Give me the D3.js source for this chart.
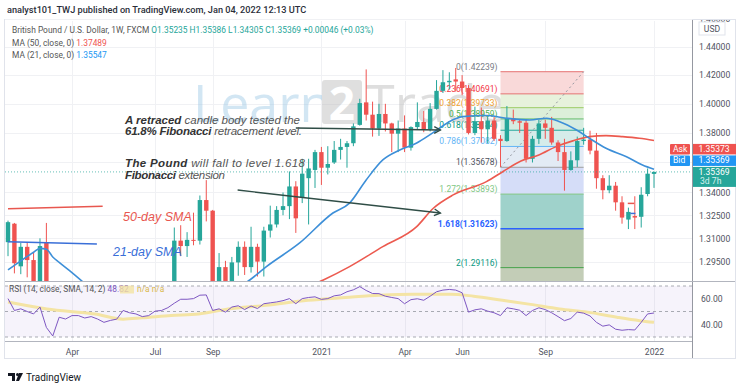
<!DOCTYPE html>
<html>
<head>
<meta charset="utf-8">
<script src="https://cdn.jsdelivr.net/npm/d3@7"></script>
<style>
  body { margin: 0; background: #fff; }
  svg { display: block; font-family: Roboto, "Liberation Sans", sans-serif; }
</style>
</head>
<body>
<svg id="chart" width="740" height="387"></svg>
<script>
// weekly GBP/USD candles, first bar = week of 27 Jan 2020
const FIRST_WEEK = Date.UTC(2020, 0, 27);
const opens = [1.3075,1.3195,1.2920,1.3045,1.2960,1.2800,1.3070,1.2370,1.1630,1.2440,1.2270,1.2510,1.2500,1.2370,1.2450,1.2400,1.2110,1.2200,1.2350,1.2670,1.2560,1.2350,1.2340,1.2485,1.2620,1.2570,
  1.2790,1.3085,1.3050,1.3090,1.3085,1.3350,1.3280,1.2800,1.2915,1.2745,1.2945,1.3045,1.2915,1.3045,1.2950,1.3150,1.3190,1.3285,1.3310,1.3440,1.3370,1.3495,1.3550,
  1.3670,1.3565,1.3600,1.3685,1.3705,1.3730,1.3855,1.4010,1.3925,1.3830,1.3930,1.3865,1.3795,1.3830,1.3700,1.3840,1.3875,1.3825,1.3965,1.4090,1.4150,1.4170,1.4155,1.4110,
  1.3800,1.3880,1.3825,1.3885,1.3760,1.3745,1.3900,1.3880,1.3870,1.3625,1.3760,1.3865,1.3835,1.3735,1.3670,1.3550,1.3615,1.3745,1.3755,1.3680,1.3495,1.3415,1.3445,1.3335,
  1.3222,1.3245,1.3240,1.3390,1.35235];
const highs = [1.3215,1.3200,1.3070,1.3075,1.3010,1.3100,1.3200,1.2485,1.2485,1.2485,1.2525,1.2650,1.2515,1.2600,1.2460,1.2400,1.2300,1.2410,1.2675,1.2813,1.2690,1.2540,1.2510,1.2670,1.2670,1.2795,
  1.3170,1.3185,1.3140,1.3267,1.3380,1.3482,1.3285,1.3005,1.2955,1.2980,1.3080,1.3080,1.3175,1.3065,1.3175,1.3313,1.3310,1.3400,1.3540,1.3475,1.3625,1.3625,1.3685,
  1.3705,1.3710,1.3745,1.3760,1.3745,1.3865,1.4035,1.4240,1.4015,1.4000,1.4000,1.3870,1.3885,1.3920,1.3845,1.4010,1.3950,1.4005,1.4165,1.4235,1.4220,1.4250,1.4200,1.4130,
  1.3980,1.3975,1.3910,1.3910,1.3785,1.3985,1.3960,1.3890,1.3895,1.3780,1.3890,1.3890,1.3910,1.3750,1.3760,1.3675,1.3775,1.3835,1.3815,1.3800,1.3515,1.3515,1.3470,1.3375,
  1.3300,1.3375,1.3435,1.3560,1.35386];
const lows = [1.2985,1.2875,1.2870,1.2850,1.2725,1.2725,1.2260,1.1410,1.1630,1.2165,1.2250,1.2400,1.2250,1.2340,1.2265,1.2075,1.2075,1.2160,1.2340,1.2500,1.2335,1.2330,1.2250,1.2475,1.2480,1.2560,
  1.2780,1.2985,1.2980,1.3055,1.3060,1.3210,1.2762,1.2765,1.2675,1.2730,1.2860,1.2865,1.2880,1.2855,1.2855,1.3105,1.3170,1.3250,1.3225,1.3135,1.3330,1.3190,1.3430,
  1.3450,1.3520,1.3590,1.3620,1.3565,1.3710,1.3850,1.3885,1.3775,1.3780,1.3810,1.3670,1.3670,1.3670,1.3680,1.3825,1.3805,1.3810,1.3960,1.4075,1.4100,1.4085,1.4060,1.3790,
  1.3785,1.3735,1.3730,1.3745,1.3570,1.3740,1.3860,1.3800,1.3600,1.3600,1.3725,1.3760,1.3720,1.3610,1.3412,1.3545,1.3570,1.3720,1.3655,1.3425,1.3355,1.3395,1.3280,1.3195,
  1.3160,1.3160,1.3170,1.3375,1.34305];
const closes = [1.3205,1.2940,1.3045,1.2960,1.2825,1.3050,1.2340,1.1630,1.2460,1.2270,1.2510,1.2505,1.2370,1.2450,1.2400,1.2110,1.2200,1.2350,1.2670,1.2560,1.2350,1.2335,1.2485,1.2620,1.2570,1.2790,
  1.3085,1.3050,1.3090,1.3085,1.3350,1.3280,1.2795,1.2915,1.2745,1.2945,1.3045,1.2915,1.3045,1.2950,1.3150,1.3190,1.3285,1.3310,1.3440,1.3230,1.3525,1.3560,1.3670,
  1.3565,1.3590,1.3685,1.3705,1.3730,1.3845,1.4005,1.3925,1.3830,1.3930,1.3865,1.3795,1.3830,1.3700,1.3840,1.3875,1.3825,1.3965,1.4090,1.4150,1.4160,1.4155,1.4110,1.3800,
  1.3880,1.3825,1.3885,1.3760,1.3745,1.3900,1.3880,1.3870,1.3625,1.3760,1.3865,1.3835,1.3735,1.3670,1.3550,1.3615,1.3745,1.3755,1.3680,1.3495,1.3415,1.3445,1.3335,1.3235,
  1.3272,1.3235,1.3385,1.3525,1.35369];

// moving averages: [week index, price]
const ma50Points = [[36,1.2620],[42,1.2720],[49.3,1.2833],[53.4,1.2918],[58.6,1.3046],[63.9,1.3176],[66.5,1.3296],[69.6,1.3384],[74.8,1.3472],
  [77.4,1.3540],[80.2,1.3610],[83,1.3651],[85.7,1.3707],[88.3,1.3746],[90.9,1.3775],[93.5,1.3782],[96.1,1.3775],[98.7,1.3764],[101,1.37489]];
const ma21Points = [[0,1.2897],[2,1.2955],[4,1.3010],[5,1.3035],[6,1.3030],[7,1.2980],[8,1.2945],[10,1.2880],[12,1.2810],[16,1.2650],[22,1.2450],
  [28,1.2560],[34,1.2740],[37.8,1.2833],[40.4,1.2918],[45.6,1.3070],[50.8,1.3265],[53.4,1.3330],[56,1.3483],[58.6,1.3617],[61.25,1.3684],[63.9,1.3732],
  [66.4,1.3800],[69.5,1.3889],[71.1,1.3912],[74.8,1.3919],[77.9,1.3901],[81.6,1.3889],[84.2,1.3901],[86.25,1.3877],[88.9,1.3820],[90.9,1.3764],
  [93.5,1.3696],[96.7,1.3639],[99.2,1.3583],[101,1.35547]];

// RSI(14) weekly values and its SMA
const rsiValues = [60.1,50.8,52.1,50,48.1,53.5,37.5,30.8,45.5,44.1,46.8,46.8,44.9,46,44.1,41.5,43,44,50.8,49,48.1,46,46.8,50.3,50.8,53,
  56.5,59.6,59.6,60.1,62.8,63,50.8,52.1,49.5,53.5,54.5,51.5,54.3,52.3,56.1,56.8,57.5,58.5,60.1,56.1,60.1,61,61.5,
  59.5,60.1,62.3,63,65.5,67,69.5,66.5,64.1,64,62,61,60.1,56.1,59.3,60,58.8,62,65.5,66.8,67.3,66.8,64.7,49.5,
  51.3,52.1,50.3,49,46.8,52.9,52.1,51,46.8,50.8,52.9,51.5,49,46,42.8,44.5,49.5,48.7,46.5,41.5,38.5,39.5,36.1,35.3,
  35.8,35.5,41.5,48.1,48.82];
const rsiMaPoints = [[0,57.5],[6.1,52],[13.6,48],[18,44],[21,45],[25.5,46.8],[29.8,48],[34.4,52],[40.3,54.8],[46.9,58.8],[52.8,61],
  [58.1,62.8],[63.3,63.6],[69.2,63.6],[72.8,62],[77.3,58.8],[81.7,55.6],[86.25,52],[90.6,49.5],[95.2,45.5],[98.75,42.8],[101,41.5]];

// fibonacci tool
const fibLevels = [0, 0.236, 0.382, 0.5, 0.618, 0.786, 1, 1.272, 1.618, 2];
const fibPrices = [1.42239, 1.40691, 1.39733, 1.38959, 1.38184, 1.37082, 1.35678, 1.33893, 1.31623, 1.29116];
const fibFromWeek = 77, fibToWeek = 90;

// axes
const priceTicks = [1.295, 1.31, 1.325, 1.34, 1.36, 1.38, 1.40, 1.42, 1.44, 1.46];
const timeTickDates = ["2020-04-06","2020-07-06","2020-09-07","2021-01-04","2021-04-05","2021-06-07","2021-09-06","2022-01-03"];
const timeTickLabels = ["Apr","Jul","Sep","2021","Apr","Jun","Sep","2022"];
const rsiTicks = [40, 60];
const askPrice = 1.35373, bidPrice = 1.35369;

const WEEK_MS = 7 * 864e5;
const dates = opens.map((d, i) => new Date(FIRST_WEEK + i * WEEK_MS));

const PANE = {left: 5, right: 692, top: 21, bottom: 281};
const RSI_PANE = {top: 282, bottom: 341};

const X = d3.scaleUtc().domain([dates[0], dates[dates.length - 1]]).range([8, 654]);
const xAt = (i) => X(new Date(FIRST_WEEK + i * WEEK_MS));
const Y = d3.scaleLog().domain([1.2833, 1.4628]).range([280, 15]);
const RY = d3.scaleLinear().domain([30, 70]).range([337, 286]);

const GREEN = "#26a69a", RED = "#ef5350";

const svg = d3.select("#chart");

const defs = svg.append("defs");
defs.append("clipPath").attr("id", "pclip").append("rect")
    .attr("x", PANE.left).attr("y", PANE.top)
    .attr("width", PANE.right - PANE.left).attr("height", PANE.bottom - PANE.top);
defs.append("clipPath").attr("id", "rclip").append("rect")
    .attr("x", PANE.left).attr("y", RSI_PANE.top)
    .attr("width", PANE.right - PANE.left).attr("height", RSI_PANE.bottom - RSI_PANE.top);
defs.append("clipPath").attr("id", "aclip").append("rect")
    .attr("x", PANE.right).attr("y", 20).attr("width", 48).attr("height", 262);

// header
svg.append("text")
    .attr("x", 7).attr("y", 13)
    .attr("font-size", 9.2).attr("fill", "#2a2e39").attr("font-weight", 500)
    .text("analyst101_TWJ published on TradingView.com, Jan 04, 2022 12:13 UTC");

// frame
svg.append("rect")
    .attr("x", 4.5).attr("y", 19.5).attr("width", 731).attr("height", 339)
    .attr("fill", "none").attr("stroke", "#e0e3eb");

// grid
const grid = svg.append("g").attr("stroke", "#f0f1f4").attr("stroke-width", 1);
grid.selectAll("line.h").data(priceTicks).enter().append("line")
    .attr("x1", PANE.left).attr("x2", PANE.right)
    .attr("y1", d => Math.round(Y(d)) + 0.5).attr("y2", d => Math.round(Y(d)) + 0.5);
grid.selectAll("line.v").data(timeTickDates).enter().append("line")
    .attr("x1", d => Math.round(X(new Date(d))) + 0.5).attr("x2", d => Math.round(X(new Date(d))) + 0.5)
    .attr("y1", PANE.top).attr("y2", RSI_PANE.bottom);

// watermark
const wm = svg.append("g").attr("opacity", 0.45);
wm.append("text").attr("x", 193).attr("y", 122)
    .attr("font-family", "'Open Sans', sans-serif").attr("font-size", 52)
    .attr("fill", "#9cc8e6").text("Learn");
wm.append("rect").attr("x", 322).attr("y", 80).attr("width", 40).attr("height", 44)
    .attr("rx", 3).attr("fill", "#b9b9b9");
wm.append("text").attr("x", 342).attr("y", 120).attr("text-anchor", "middle")
    .attr("font-family", "'Open Sans', sans-serif").attr("font-size", 46).attr("font-weight", 700)
    .attr("fill", "#ffffff").text("2");
wm.append("text").attr("x", 366).attr("y", 122)
    .attr("font-family", "'Open Sans', sans-serif").attr("font-size", 52)
    .attr("fill", "#b8b8b8").text("Trade");

// price pane
const pane = svg.append("g").attr("clip-path", "url(#pclip)");

// fibonacci zones
const FIB_FILL = ["#f9d9d9", "#e7f2dc", "#dcefd9", "#d6ece1", "#d5ecea", "#e3ebf5", "#d5ddf8", "#9fd2cb", "#b6c7ab"];
const FIB_LINE = ["#e57373", "#e57373", "#9ccc65", "#66bb6a", "#26a69a", "#64b5f6", "#9e9e9e", "#81c784", "#2962ff", "#43a047"];
const FIB_TEXT = ["#787b86", "#f23645", "#f0a030", "#4caf50", "#089981", "#64b5f6", "#50535e", "#81c784", "#2962ff", "#089981"];
const fx1 = xAt(fibFromWeek), fx2 = xAt(fibToWeek);
const fib = pane.append("g");
fib.selectAll("rect").data(fibPrices.slice(0, -1)).enter().append("rect")
    .attr("x", fx1).attr("width", fx2 - fx1)
    .attr("y", d => Y(d))
    .attr("height", (d, i) => Y(fibPrices[i + 1]) - Y(d))
    .attr("fill", (d, i) => FIB_FILL[i]);
fib.append("rect")
    .attr("x", fx1).attr("width", fx2 - fx1)
    .attr("y", Y(fibPrices[fibPrices.length - 1])).attr("height", 40)
    .attr("fill", "#c3cdb7");
fib.selectAll("line").data(fibPrices).enter().append("line")
    .attr("x1", fx1).attr("x2", fx2)
    .attr("y1", d => Y(d)).attr("y2", d => Y(d))
    .attr("stroke", (d, i) => FIB_LINE[i]).attr("stroke-width", (d, i) => i === 8 ? 1.5 : 1);
fib.selectAll("text").data(fibPrices).enter().append("text")
    .attr("x", fx1 - 3).attr("y", d => Y(d) - 2)
    .attr("text-anchor", "end").attr("font-size", 8.5)
    .attr("font-weight", (d, i) => i === 8 ? 700 : 400)
    .attr("fill", (d, i) => FIB_TEXT[i])
    .text((d, i) => fibLevels[i] + "(" + d.toFixed(5) + ")");
fib.append("line")
    .attr("x1", fx1).attr("y1", Y(fibPrices[6]))
    .attr("x2", fx2).attr("y2", Y(fibPrices[0]))
    .attr("stroke", "#9598a1").attr("stroke-dasharray", "2,3");

// candles
const candles = pane.selectAll("g.candle")
    .data(dates)
    .enter()
    .append("g")
        .attr("class", "candle");
candles.append("line")
    .attr("x1", (d) => X(d)).attr("x2", (d) => X(d))
    .attr("y1", (d, i) => Y(highs[i])).attr("y2", (d, i) => Y(lows[i]))
    .attr("stroke", (d, i) => closes[i] >= opens[i] ? GREEN : RED);
candles.append("rect")
    .attr("x", (d) => X(d) - 2.2).attr("width", 4.4)
    .attr("y", (d, i) => Y(Math.max(opens[i], closes[i])))
    .attr("height", (d, i) => Math.max(1, Math.abs(Y(opens[i]) - Y(closes[i]))))
    .attr("fill", (d, i) => closes[i] >= opens[i] ? GREEN : RED);

// last price line
pane.append("line")
    .attr("x1", PANE.left).attr("x2", PANE.right)
    .attr("y1", Y(closes[closes.length - 1])).attr("y2", Y(closes[closes.length - 1]))
    .attr("stroke", GREEN).attr("stroke-dasharray", "1,2").attr("opacity", 0.7);

// moving averages
const maLine = d3.line()
    .x(d => xAt(d[0]))
    .y(d => Y(d[1]))
    .curve(d3.curveMonotoneX);
pane.append("path").datum(ma50Points)
    .attr("d", maLine).attr("fill", "none")
    .attr("stroke", "#ec5a4f").attr("stroke-width", 1.6);
pane.append("path").datum(ma21Points)
    .attr("d", maLine).attr("fill", "none")
    .attr("stroke", "#3d8fd8").attr("stroke-width", 1.6);

// drawn annotations
const ANNO = "#2f4d46";
function arrow(g, a, b) {
    const x1 = xAt(a[0]), y1 = Y(a[1]), x2 = xAt(b[0]), y2 = Y(b[1]);
    const ang = Math.atan2(y2 - y1, x2 - x1);
    g.append("line").attr("x1", x1).attr("y1", y1).attr("x2", x2).attr("y2", y2)
        .attr("stroke", ANNO).attr("stroke-width", 1.4);
    const h = 7;
    g.append("path")
        .attr("d", "M" + (x2 - h * Math.cos(ang - 0.5)) + "," + (y2 - h * Math.sin(ang - 0.5)) +
                   "L" + x2 + "," + y2 +
                   "L" + (x2 - h * Math.cos(ang + 0.5)) + "," + (y2 - h * Math.sin(ang + 0.5)))
        .attr("fill", "none").attr("stroke", ANNO).attr("stroke-width", 1.4);
}
const anno = pane.append("g");
arrow(anno, [45, 1.3834], [67.6, 1.3820]);
arrow(anno, [35.9, 1.3416], [67.6, 1.3265]);

// legend swatch lines for the SMA labels
anno.append("line").attr("x1", xAt(0)).attr("x2", xAt(14.8))
    .attr("y1", Y(1.3293)).attr("y2", Y(1.3310))
    .attr("stroke", "#e8574f").attr("stroke-width", 1.5);
anno.append("line").attr("x1", xAt(0)).attr("x2", xAt(13.9))
    .attr("y1", Y(1.3078)).attr("y2", Y(1.3063))
    .attr("stroke", "#3a6fd8").attr("stroke-width", 1.5);
anno.append("line").attr("x1", xAt(96.9)).attr("x2", xAt(97.9))
    .attr("y1", Y(1.3328)).attr("y2", Y(1.3328))
    .attr("stroke", "#e8574f").attr("stroke-width", 1.5);
anno.append("line").attr("x1", xAt(97.3)).attr("x2", xAt(98.1))
    .attr("y1", Y(1.3262)).attr("y2", Y(1.3262))
    .attr("stroke", "#3a6fd8").attr("stroke-width", 1.5);

// annotation texts
const note = svg.append("g")
    .attr("font-family", "'Liberation Sans', Arial, sans-serif")
    .attr("font-style", "italic").attr("font-size", 11.5).attr("fill", "#444");
function noteLine(y, parts, len) {
    const t = note.append("text").attr("x", 125).attr("y", y)
        .attr("textLength", len).attr("lengthAdjust", "spacing");
    parts.forEach(p => t.append("tspan")
        .attr("font-weight", p[1] ? 700 : 400)
        .attr("fill", p[1] ? "#333" : "#555")
        .text(p[0]));
}
noteLine(124, [["A retraced ", true], ["candle body tested the", false]], 175);
noteLine(135, [["61.8% Fibonacci ", true], ["retracement level.", false]], 177);
noteLine(167, [["The Pound ", true], ["will  fall to  level  1.618", false]], 180);
noteLine(179, [["Fibonacci ", true], ["extension", false]], 100);

svg.append("text").attr("x", 123).attr("y", 221)
    .attr("font-family", "'Liberation Sans', Arial, sans-serif")
    .attr("font-style", "italic").attr("font-size", 12.5).attr("fill", "#e8574f")
    .text("50-day SMA");
svg.append("text").attr("x", 113).attr("y", 256)
    .attr("font-family", "'Liberation Sans', Arial, sans-serif")
    .attr("font-style", "italic").attr("font-size", 12.5).attr("fill", "#3a6fd8")
    .text("21-day SMA");

// legend
const leg = svg.append("g").attr("font-size", 8.4).attr("fill", "#555");
const l1 = leg.append("text").attr("x", 12).attr("y", 33);
l1.append("tspan").text("British Pound / U.S. Dollar, 1W, FXCM ");
[["O", "1.35235"], ["H", "1.35386"], ["L", "1.34305"], ["C", "1.35369"]].forEach(p => {
    l1.append("tspan").attr("fill", GREEN).text(" " + p[0] + p[1]);
});
l1.append("tspan").attr("fill", GREEN).text(" +0.00046 (+0.03%)");
const l2 = leg.append("text").attr("x", 12).attr("y", 45.5);
l2.append("tspan").text("MA (50, close, 0) ");
l2.append("tspan").attr("fill", "#ef5350").text(" 1.37489");
const l3 = leg.append("text").attr("x", 12).attr("y", 58);
l3.append("tspan").text("MA (21, close, 0) ");
l3.append("tspan").attr("fill", "#2196f3").text(" 1.35547");

// RSI pane
const rsiG = svg.append("g").attr("clip-path", "url(#rclip)");
rsiG.append("rect")
    .attr("x", PANE.left).attr("width", PANE.right - PANE.left)
    .attr("y", RY(70)).attr("height", RY(30) - RY(70))
    .attr("fill", "#7e57c2").attr("opacity", 0.07);
rsiG.selectAll("line.band").data([70, 50, 30]).enter().append("line")
    .attr("x1", PANE.left).attr("x2", PANE.right)
    .attr("y1", d => RY(d)).attr("y2", d => RY(d))
    .attr("stroke", "#9598a1").attr("stroke-dasharray", "3,3").attr("opacity", 0.8);
rsiG.append("path").datum(rsiMaPoints)
    .attr("d", d3.line().x(d => xAt(d[0])).y(d => RY(d[1])).curve(d3.curveMonotoneX))
    .attr("fill", "none").attr("stroke", "#f4e4a4").attr("stroke-width", 3);
rsiG.append("path").datum(rsiValues)
    .attr("d", d3.line().x((d, i) => X(dates[i])).y(d => RY(d)))
    .attr("fill", "none").attr("stroke", "#7e57c2").attr("stroke-width", 1);

const rl = svg.append("text").attr("x", 9).attr("y", 292).attr("font-size", 8.4).attr("fill", "#555");
rl.append("tspan").text("RSI (14, close, SMA, 14, 2)  ");
rl.append("tspan").attr("fill", "#7e57c2").text("48.82");
svg.append("rect").attr("x", 120).attr("y", 285.5).attr("width", 14).attr("height", 8).attr("fill", "#f4e4a4").attr("opacity", 0.8);
svg.append("text").attr("x", 137).attr("y", 292).attr("font-size", 8.4).attr("fill", "#d9b84a").text("n/a  n/a");

// separators
svg.append("line").attr("x1", PANE.right + 0.5).attr("x2", PANE.right + 0.5)
    .attr("y1", 20).attr("y2", 358).attr("stroke", "#9598a1");
svg.append("line").attr("x1", 5).attr("x2", 735)
    .attr("y1", 281.5).attr("y2", 281.5).attr("stroke", "#b2b5be");
svg.append("line").attr("x1", 5).attr("x2", PANE.right)
    .attr("y1", 341.5).attr("y2", 341.5).attr("stroke", "#b2b5be");

// price axis
svg.append("g")
    .attr("clip-path", "url(#aclip)")
    .append("g")
    .attr("transform", "translate(" + PANE.right + ",0)")
    .call(d3.axisRight(Y).tickValues(priceTicks).tickFormat(d3.format(".5f")).tickSize(0).tickPadding(7))
    .call(g => g.select(".domain").remove())
    .call(g => g.selectAll("text").attr("font-size", 8.6).attr("fill", "#50535e").attr("font-family", "Roboto, sans-serif"));
svg.append("rect").attr("x", 699).attr("y", 22).attr("width", 26).attr("height", 13)
    .attr("fill", "#fff").attr("stroke", "#e0e3eb");
svg.append("text").attr("x", 712).attr("y", 31.5).attr("text-anchor", "middle")
    .attr("font-size", 8.6).attr("fill", "#50535e").text("USD");

// RSI axis
svg.append("g")
    .attr("transform", "translate(" + PANE.right + ",0)")
    .call(d3.axisRight(RY).tickValues(rsiTicks).tickFormat(d3.format(".2f")).tickSize(0).tickPadding(9))
    .call(g => g.select(".domain").remove())
    .call(g => g.selectAll("text").attr("font-size", 8.6).attr("fill", "#50535e").attr("font-family", "Roboto, sans-serif"));

// time axis
svg.append("g")
    .attr("transform", "translate(0," + 341 + ")")
    .call(d3.axisBottom(X).tickValues(timeTickDates.map(d => new Date(d)))
        .tickFormat((d, i) => timeTickLabels[i]).tickSize(0).tickPadding(8))
    .call(g => g.select(".domain").remove())
    .call(g => g.selectAll("text").attr("font-size", 8.6).attr("fill", "#50535e").attr("font-family", "Roboto, sans-serif"));

// price labels on the axis
const yc = Y(closes[closes.length - 1]);
const tags = svg.append("g").attr("font-size", 8.6).attr("font-family", "Roboto, sans-serif");
tags.append("rect").attr("x", 670).attr("y", yc - 28).attr("width", 20).attr("height", 10.5).attr("fill", RED).attr("rx", 1);
tags.append("text").attr("x", 673).attr("y", yc - 20).attr("fill", "#fff").text("Ask");
tags.append("rect").attr("x", 670).attr("y", yc - 16.5).attr("width", 20).attr("height", 10.5).attr("fill", "#2196f3").attr("rx", 1);
tags.append("text").attr("x", 673).attr("y", yc - 8.5).attr("fill", "#fff").text("Bid");
tags.append("rect").attr("x", 693).attr("y", yc - 28).attr("width", 43).attr("height", 10.5).attr("fill", RED);
tags.append("text").attr("x", 714).attr("y", yc - 20).attr("text-anchor", "middle").attr("fill", "#fff").text(askPrice.toFixed(5));
tags.append("rect").attr("x", 693).attr("y", yc - 16.5).attr("width", 43).attr("height", 10.5).attr("fill", "#2196f3");
tags.append("text").attr("x", 714).attr("y", yc - 8.5).attr("text-anchor", "middle").attr("fill", "#fff").text(bidPrice.toFixed(5));
tags.append("rect").attr("x", 693).attr("y", yc - 5).attr("width", 43).attr("height", 20).attr("fill", GREEN);
tags.append("text").attr("x", 714).attr("y", yc + 3.5).attr("text-anchor", "middle").attr("fill", "#fff").text(closes[closes.length - 1].toFixed(5));
tags.append("text").attr("x", 700).attr("y", yc + 12.5).attr("fill", "#d8f3ef").text("3d 7h");

// footer logo
const logo = svg.append("g").attr("fill", "#131722");
logo.append("path").attr("d", "M8,373 h7 v8 h-3 v-5 h-4 z");
logo.append("circle").attr("cx", 17.5).attr("cy", 374.5).attr("r", 1.5);
logo.append("path").attr("d", "M19,373 h4 l-4,8 h-3 z");
svg.append("text").attr("x", 26).attr("y", 381).attr("font-size", 10).attr("fill", "#131722").text("TradingView");
</script>
</body>
</html>
